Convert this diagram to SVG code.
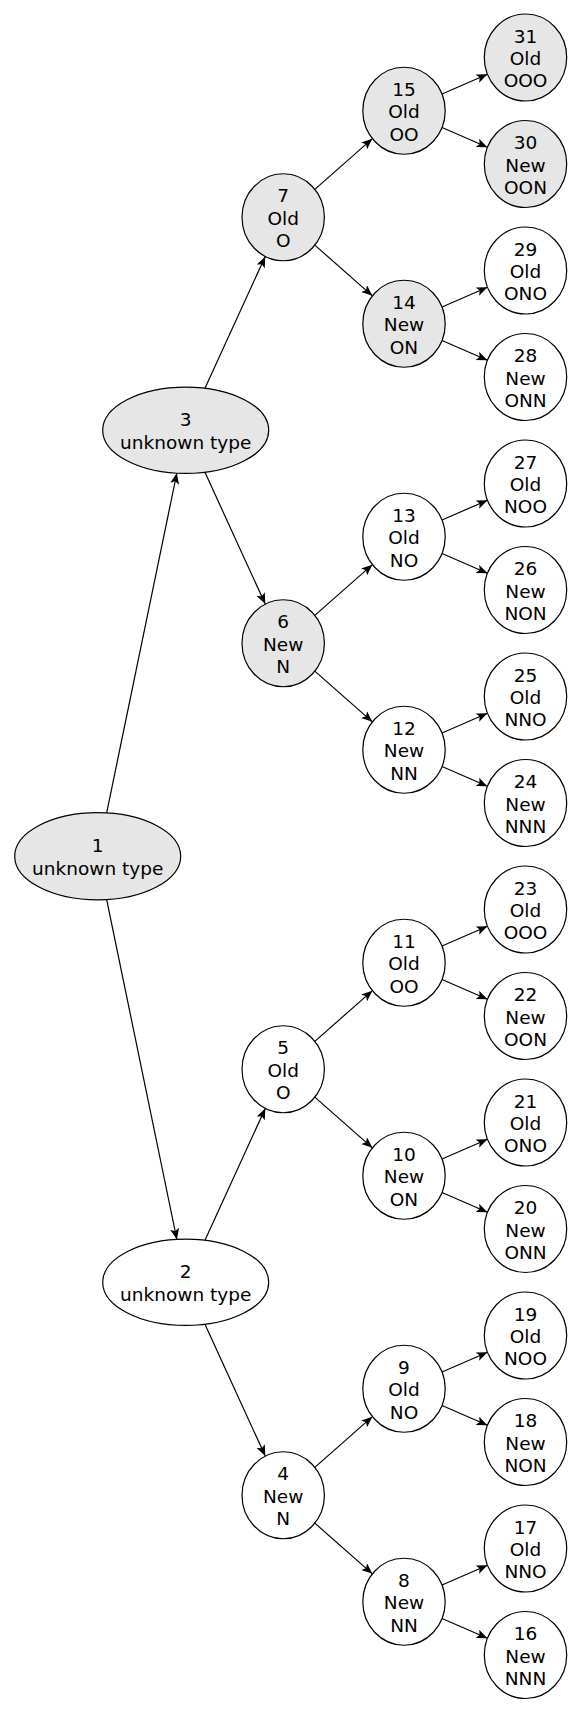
<svg xmlns="http://www.w3.org/2000/svg" width="581" height="1713" viewBox="0 0 581 1713">
<style>
.n ellipse{stroke:#000;stroke-width:1.2;fill:#fff}
.g ellipse{fill:#e6e6e6}
text{font-family:"DejaVu Sans",Verdana,sans-serif;font-size:18.5px;text-anchor:middle;fill:#000}
#edges path{stroke:#000;stroke-width:1.2;fill:none;marker-end:url(#arr)}
</style>
<defs>
<marker id="arr" markerUnits="userSpaceOnUse" markerWidth="13" markerHeight="11" refX="11" refY="4.5" orient="auto">
<path d="M0,0 L11,4.5 L0,9 L2.5,4.5 z" fill="#000"/>
</marker>
</defs>
<rect width="581" height="1713" fill="#fff"/>
<g id="edges">
<path d="M106.67,812.81 L176.87,473"/>
<path d="M106.67,899.69 L176.87,1239.5"/>
<path d="M204.85,388.41 L265.27,256.42"/>
<path d="M204.85,472.09 L265.27,604.08"/>
<path d="M204.85,1240.41 L265.27,1108.42"/>
<path d="M204.85,1324.09 L265.27,1456.08"/>
<path d="M314.82,189.37 L372.38,138.63"/>
<path d="M314.82,245.13 L372.38,295.87"/>
<path d="M314.82,615.37 L372.38,564.63"/>
<path d="M314.82,671.13 L372.38,721.87"/>
<path d="M314.82,1041.37 L372.38,990.63"/>
<path d="M314.82,1097.13 L372.38,1147.87"/>
<path d="M314.82,1467.37 L372.38,1416.63"/>
<path d="M314.82,1523.13 L372.38,1573.87"/>
<path d="M442.05,94.07 L487.45,74.18"/>
<path d="M442.05,127.43 L487.45,147.32"/>
<path d="M442.05,307.07 L487.45,287.18"/>
<path d="M442.05,340.43 L487.45,360.32"/>
<path d="M442.05,520.07 L487.45,500.18"/>
<path d="M442.05,553.43 L487.45,573.32"/>
<path d="M442.05,733.07 L487.45,713.18"/>
<path d="M442.05,766.43 L487.45,786.32"/>
<path d="M442.05,946.07 L487.45,926.18"/>
<path d="M442.05,979.43 L487.45,999.32"/>
<path d="M442.05,1159.07 L487.45,1139.18"/>
<path d="M442.05,1192.43 L487.45,1212.32"/>
<path d="M442.05,1372.07 L487.45,1352.18"/>
<path d="M442.05,1405.43 L487.45,1425.32"/>
<path d="M442.05,1585.07 L487.45,1565.18"/>
<path d="M442.05,1618.43 L487.45,1638.32"/>
</g>
<g id="n1" class="n g" transform="translate(97.7,856.25)"><ellipse rx="83" ry="43.6"/><text y="-3.8">1</text><text y="18.5">unknown type</text></g>
<g id="n3" class="n g" transform="translate(185.7,430.25)"><ellipse rx="83" ry="43.2"/><text y="-3.8">3</text><text y="18.5">unknown type</text></g>
<g id="n2" class="n" transform="translate(185.7,1282.25)"><ellipse rx="83" ry="43.2"/><text y="-3.8">2</text><text y="18.5">unknown type</text></g>
<g id="n7" class="n g" transform="translate(283.2,217.25)"><ellipse rx="41.2" ry="43.5"/><text y="-14.8">7</text><text y="7.5">Old</text><text y="29.8">O</text></g>
<g id="n6" class="n g" transform="translate(283.2,643.25)"><ellipse rx="41.2" ry="43.5"/><text y="-14.8">6</text><text y="7.5">New</text><text y="29.8">N</text></g>
<g id="n5" class="n" transform="translate(283.2,1069.25)"><ellipse rx="41.2" ry="43.5"/><text y="-14.8">5</text><text y="7.5">Old</text><text y="29.8">O</text></g>
<g id="n4" class="n" transform="translate(283.2,1495.25)"><ellipse rx="41.2" ry="43.5"/><text y="-14.8">4</text><text y="7.5">New</text><text y="29.8">N</text></g>
<g id="n15" class="n g" transform="translate(404,110.75)"><ellipse rx="41.2" ry="43.5"/><text y="-14.8">15</text><text y="7.5">Old</text><text y="29.8">OO</text></g>
<g id="n14" class="n g" transform="translate(404,323.75)"><ellipse rx="41.2" ry="43.5"/><text y="-14.8">14</text><text y="7.5">New</text><text y="29.8">ON</text></g>
<g id="n13" class="n" transform="translate(404,536.75)"><ellipse rx="41.2" ry="43.5"/><text y="-14.8">13</text><text y="7.5">Old</text><text y="29.8">NO</text></g>
<g id="n12" class="n" transform="translate(404,749.75)"><ellipse rx="41.2" ry="43.5"/><text y="-14.8">12</text><text y="7.5">New</text><text y="29.8">NN</text></g>
<g id="n11" class="n" transform="translate(404,962.75)"><ellipse rx="41.2" ry="43.5"/><text y="-14.8">11</text><text y="7.5">Old</text><text y="29.8">OO</text></g>
<g id="n10" class="n" transform="translate(404,1175.75)"><ellipse rx="41.2" ry="43.5"/><text y="-14.8">10</text><text y="7.5">New</text><text y="29.8">ON</text></g>
<g id="n9" class="n" transform="translate(404,1388.75)"><ellipse rx="41.2" ry="43.5"/><text y="-14.8">9</text><text y="7.5">Old</text><text y="29.8">NO</text></g>
<g id="n8" class="n" transform="translate(404,1601.75)"><ellipse rx="41.2" ry="43.5"/><text y="-14.8">8</text><text y="7.5">New</text><text y="29.8">NN</text></g>
<g id="n31" class="n g" transform="translate(525.5,57.5)"><ellipse rx="41.2" ry="43.5"/><text y="-14.8">31</text><text y="7.5">Old</text><text y="29.8">OOO</text></g>
<g id="n30" class="n g" transform="translate(525.5,164)"><ellipse rx="41.2" ry="43.5"/><text y="-14.8">30</text><text y="7.5">New</text><text y="29.8">OON</text></g>
<g id="n29" class="n" transform="translate(525.5,270.5)"><ellipse rx="41.2" ry="43.5"/><text y="-14.8">29</text><text y="7.5">Old</text><text y="29.8">ONO</text></g>
<g id="n28" class="n" transform="translate(525.5,377)"><ellipse rx="41.2" ry="43.5"/><text y="-14.8">28</text><text y="7.5">New</text><text y="29.8">ONN</text></g>
<g id="n27" class="n" transform="translate(525.5,483.5)"><ellipse rx="41.2" ry="43.5"/><text y="-14.8">27</text><text y="7.5">Old</text><text y="29.8">NOO</text></g>
<g id="n26" class="n" transform="translate(525.5,590)"><ellipse rx="41.2" ry="43.5"/><text y="-14.8">26</text><text y="7.5">New</text><text y="29.8">NON</text></g>
<g id="n25" class="n" transform="translate(525.5,696.5)"><ellipse rx="41.2" ry="43.5"/><text y="-14.8">25</text><text y="7.5">Old</text><text y="29.8">NNO</text></g>
<g id="n24" class="n" transform="translate(525.5,803)"><ellipse rx="41.2" ry="43.5"/><text y="-14.8">24</text><text y="7.5">New</text><text y="29.8">NNN</text></g>
<g id="n23" class="n" transform="translate(525.5,909.5)"><ellipse rx="41.2" ry="43.5"/><text y="-14.8">23</text><text y="7.5">Old</text><text y="29.8">OOO</text></g>
<g id="n22" class="n" transform="translate(525.5,1016)"><ellipse rx="41.2" ry="43.5"/><text y="-14.8">22</text><text y="7.5">New</text><text y="29.8">OON</text></g>
<g id="n21" class="n" transform="translate(525.5,1122.5)"><ellipse rx="41.2" ry="43.5"/><text y="-14.8">21</text><text y="7.5">Old</text><text y="29.8">ONO</text></g>
<g id="n20" class="n" transform="translate(525.5,1229)"><ellipse rx="41.2" ry="43.5"/><text y="-14.8">20</text><text y="7.5">New</text><text y="29.8">ONN</text></g>
<g id="n19" class="n" transform="translate(525.5,1335.5)"><ellipse rx="41.2" ry="43.5"/><text y="-14.8">19</text><text y="7.5">Old</text><text y="29.8">NOO</text></g>
<g id="n18" class="n" transform="translate(525.5,1442)"><ellipse rx="41.2" ry="43.5"/><text y="-14.8">18</text><text y="7.5">New</text><text y="29.8">NON</text></g>
<g id="n17" class="n" transform="translate(525.5,1548.5)"><ellipse rx="41.2" ry="43.5"/><text y="-14.8">17</text><text y="7.5">Old</text><text y="29.8">NNO</text></g>
<g id="n16" class="n" transform="translate(525.5,1655)"><ellipse rx="41.2" ry="43.5"/><text y="-14.8">16</text><text y="7.5">New</text><text y="29.8">NNN</text></g>
</svg>
